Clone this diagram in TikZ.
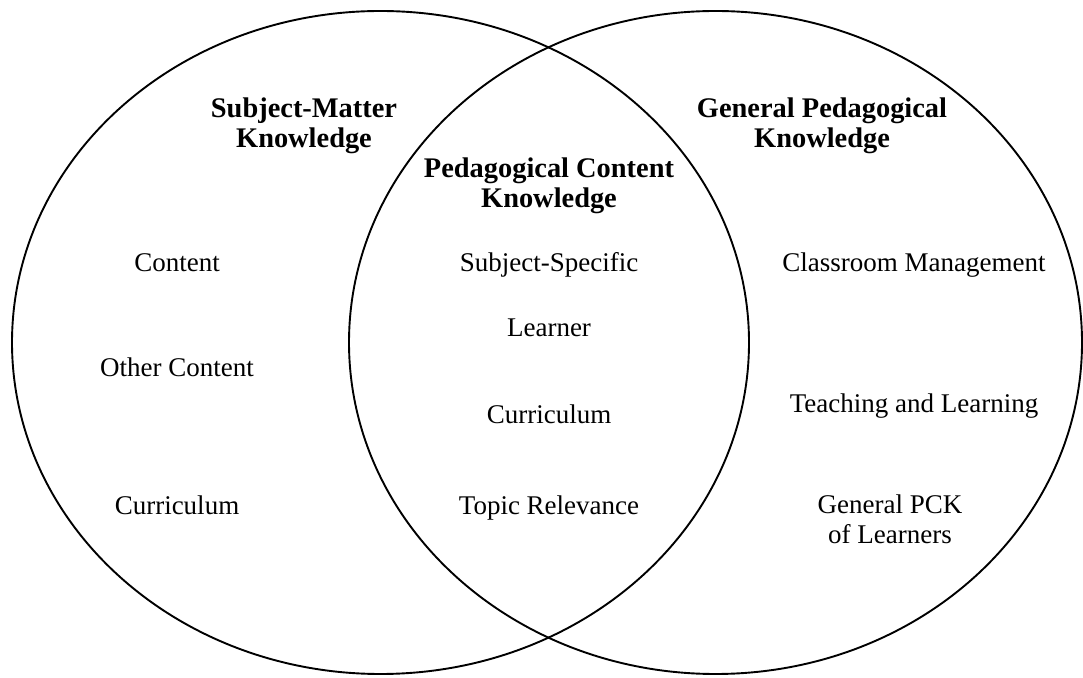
\documentclass[tikz,border=0pt]{standalone}
\usepackage{fontspec}
\setmainfont{Liberation Serif}
\begin{document}
\begin{tikzpicture}[x=1pt,y=1pt,
  ring/.style={line width=1.9pt, draw=black},
  lbl/.style={font=\fontsize{27}{30}\selectfont, anchor=base, align=center, inner sep=0pt},
  head/.style={lbl, font=\fontsize{28.4}{30}\selectfont\bfseries}]
\useasboundingbox (0,0) rectangle (1083,677);
\draw[ring] (380.5,334.5) ellipse [x radius=368.5, y radius=331.5];
\draw[ring] (715.5,334.5) ellipse [x radius=366.5, y radius=331.5];
% headings (anchor base = last line baseline)
\node[head] (smk) at (304,677-148) {Subject-Matter\\Knowledge};
\node[head] (gpk) at (822,677-148) {General Pedagogical\\Knowledge};
\node[head] (pck) at (549,677-208) {Pedagogical Content\\Knowledge};
% left
\node[lbl] (content) at (177,677-272) {Content};
\node[lbl] (other) at (177,677-377) {Other Content};
\node[lbl] (curl) at (177,677-515) {Curriculum};
% middle
\node[lbl] (subj) at (549,677-272) {Subject-Specific};
\node[lbl] (learner) at (549,677-337) {Learner};
\node[lbl] (curm) at (549,677-424) {Curriculum};
\node[lbl] (topic) at (549,677-515) {Topic Relevance};
% right
\node[lbl] (class) at (914,677-272) {Classroom Management};
\node[lbl] (teach) at (914,677-413) {Teaching and Learning};
\node[lbl] (gen) at (890,677-544) {General PCK\\of Learners};
\end{tikzpicture}
\end{document}
